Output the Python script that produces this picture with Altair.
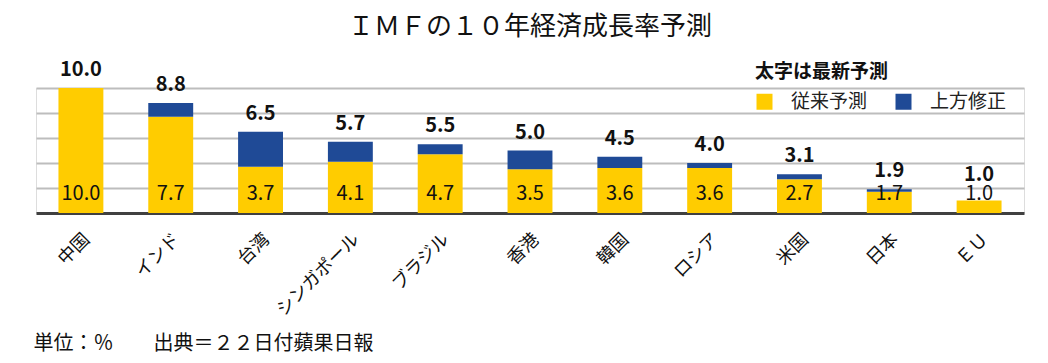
import altair as alt
import pandas as pd

FONT = "Noto Sans CJK JP"

countries = ["中国", "インド", "台湾", "シンガポール", "ブラジル", "香港", "韓国", "ロシア", "米国", "日本", "ＥＵ"]
previous = [10.0, 7.7, 3.7, 4.1, 4.7, 3.5, 3.6, 3.6, 2.7, 1.7, 1.0]
latest = [10.0, 8.8, 6.5, 5.7, 5.5, 5.0, 4.5, 4.0, 3.1, 1.9, 1.0]
series = ["従来予測", "上方修正"]
colors = ["#FFCC00", "#1F4A96"]
grid_values = [2, 4, 6, 8, 10]

rows = []
for c, p, l in zip(countries, previous, latest):
    rows.append({"国": c, "系列": series[0], "値": p, "順": 0})
    rows.append({"国": c, "系列": series[1], "値": round(l - p, 1), "順": 1})
bars_df = pd.DataFrame(rows)
labels_df = pd.DataFrame({"国": countries, "従来": previous, "最新": latest})

x_axis = alt.Axis(
    title="単位：％　　出典＝２２日付蘋果日報",
    labelAngle=-45, labelAlign="right", labelBaseline="top", labelPadding=17,
    labelFontSize=18, labelColor="#111111", labelFont=FONT,
    ticks=False, domainColor="#404040", domainWidth=3,
    titleAnchor="start", titleAlign="left", titleX=-3, titleY=130,
    titleBaseline="middle", titleFontSize=20, titleFontWeight="normal",
    titleFont=FONT, titleColor="#111111",
)
x_scale = alt.Scale(paddingInner=0.5, paddingOuter=0.25)
y_scale = alt.Scale(domain=[0, 10], nice=False)
y_axis = alt.Axis(values=grid_values, tickCount=10, labels=False, ticks=False, domain=False,
                  title=None, grid=True, gridColor="#BDBDBD", gridWidth=2)

x_enc = alt.X("国:N", sort=countries, scale=x_scale, axis=x_axis)

bars = alt.Chart(bars_df).mark_bar().encode(
    x=x_enc,
    y=alt.Y("値:Q", stack="zero", scale=y_scale, axis=y_axis),
    color=alt.Color(
        "系列:N",
        scale=alt.Scale(domain=series, range=colors),
        legend=alt.Legend(
            title="太字は最新予測", orient="none", legendX=719, legendY=-25,
            direction="horizontal", padding=0,
            titleFontSize=19, titleFontWeight="bold", titleColor="#111111",
            titleFont=FONT, titlePadding=10,
            labelFontSize=19, labelFont=FONT, labelColor="#222222",
            labelOffset=17, columnPadding=26,
            symbolType="square", symbolSize=256, symbolStrokeWidth=0,
        ),
    ),
    order=alt.Order("順:Q"),
)

totals = alt.Chart(labels_df).transform_calculate(
    pos="max(datum['最新'], 1.6)"
).mark_text(
    font=FONT, fontSize=20, fontWeight="bold", baseline="alphabetic", dy=-12, color="#111111"
).encode(
    x=x_enc,
    y=alt.Y("pos:Q", scale=y_scale, axis=y_axis),
    text=alt.Text("最新:Q", format=".1f"),
)

bases = alt.Chart(labels_df).mark_text(
    font=FONT, fontSize=20, fontWeight="normal", baseline="alphabetic", dy=-13, color="#111111"
).encode(
    x=x_enc,
    y=alt.datum(0, scale=y_scale),
    text=alt.Text("従来:Q", format=".1f"),
)

chart = alt.layer(bars, totals, bases).properties(
    width=988, height=125,
    autosize=alt.AutoSizeParams(type="none"),
    padding={"left": 28, "top": 80, "right": 16, "bottom": 142},
    title=alt.TitleParams(
        "ＩＭＦの１０年経済成長率予測", fontSize=26, fontWeight="normal",
        anchor="middle", offset=20, color="#111111", font=FONT,
    ),
).configure_view(stroke=None).configure(font=FONT)

chart.save("out.html", embed_options={"renderer": "svg", "actions": False})
